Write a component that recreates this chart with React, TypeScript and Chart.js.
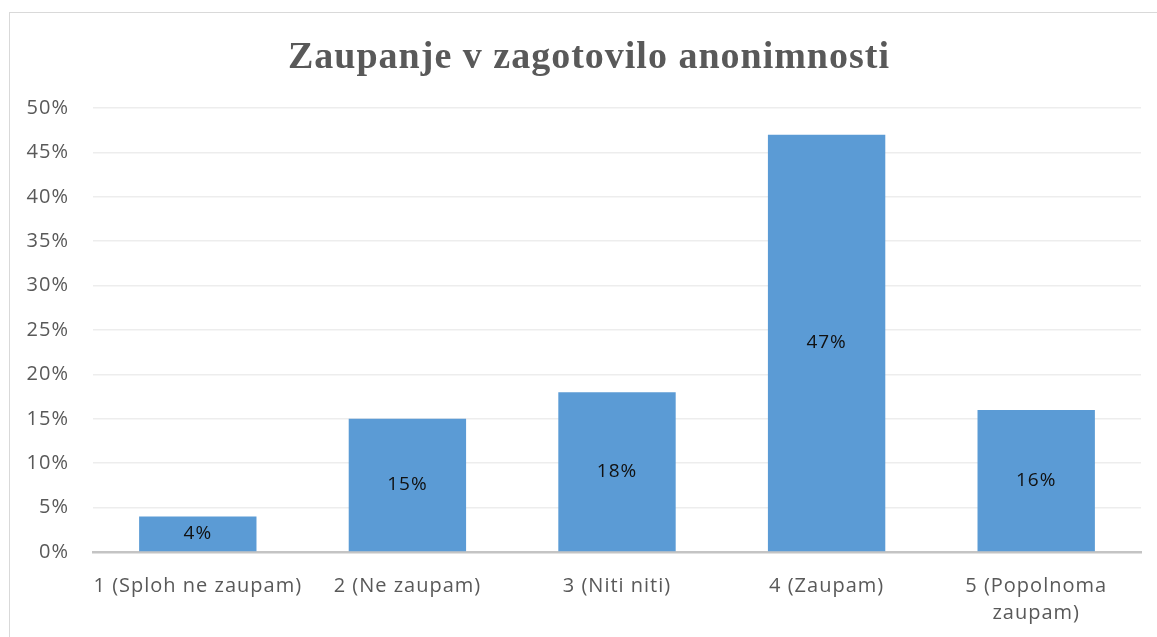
import React, { useEffect, useRef } from "react";
import { Chart, registerables } from "chart.js";

Chart.register(...registerables);

const TITLE = "Zaupanje v zagotovilo anonimnosti";
const categories: (string | string[])[] = [
  "1 (Sploh ne zaupam)",
  "2 (Ne zaupam)",
  "3 (Niti niti)",
  "4 (Zaupam)",
  ["5 (Popolnoma", "zaupam)"],
];
const values = [4, 15, 18, 47, 16];
const yMax = 50;
const yStep = 5;

const FONT = "'Open Sans', 'Noto Sans', sans-serif";
const TITLE_FONT = "bold 38px 'Liberation Serif', 'Times New Roman', serif";

const spacing = {
  id: "spacing",
  beforeUpdate(chart: any) {
    chart.ctx.letterSpacing = "1px";
  },
  beforeDraw(chart: any) {
    chart.ctx.letterSpacing = "1px";
  },
};

const titlePlugin = {
  id: "customTitle",
  afterDraw(chart: any) {
    const ctx = chart.ctx;
    ctx.save();
    ctx.letterSpacing = "1px";
    ctx.font = TITLE_FONT;
    ctx.fillStyle = "#595959";
    ctx.textAlign = "center";
    ctx.textBaseline = "alphabetic";
    ctx.fillText(TITLE, 579, 55);
    ctx.restore();
  },
};

const centerLabels = {
  id: "centerLabels",
  afterDatasetsDraw(chart: any) {
    const ctx = chart.ctx;
    const meta = chart.getDatasetMeta(0);
    ctx.save();
    ctx.letterSpacing = "1px";
    ctx.font = `19px ${FONT}`;
    ctx.fillStyle = "#111";
    ctx.textAlign = "center";
    ctx.textBaseline = "middle";
    meta.data.forEach((bar: any, i: number) => {
      const v = chart.data.datasets[0].data[i];
      const cy = (bar.y + bar.base) / 2;
      ctx.fillText(`${v}%`, bar.x, cy);
    });
    ctx.restore();
  },
};

export default function App() {
  const ref = useRef<HTMLCanvasElement | null>(null);
  useEffect(() => {
    if (!ref.current) return;
    const chart = new Chart(ref.current, {
      type: "bar",
      data: {
        labels: categories,
        datasets: [
          {
            data: values,
            backgroundColor: "#5B9BD5",
            borderWidth: 0,
            barPercentage: 0.56,
            categoryPercentage: 1,
          },
        ],
      },
      options: {
        animation: false,
        responsive: true,
        maintainAspectRatio: false,
        layout: { padding: { left: 0, right: 16, top: 95, bottom: 0 } },
        plugins: {
          legend: { display: false },
          tooltip: { enabled: false },
          title: { display: false },
        },
        scales: {
          x: {
            grid: { display: false, drawTicks: false },
            border: { display: true, color: "#c4c4c4", width: 2.5 },
            ticks: {
              color: "#595959",
              font: { family: FONT, size: 20, lineHeight: 1.35 },
              padding: 21,
              maxRotation: 0,
              autoSkip: false,
            },
            afterFit(scale: any) {
              scale.height = 85;
            },
          },
          y: {
            min: 0,
            max: yMax,
            ticks: {
              stepSize: yStep,
              color: "#595959",
              font: { family: FONT, size: 20 },
              padding: 24,
              callback: (v: any) => `${v}%`,
            },
            grid: { color: "#ededed", lineWidth: 1.5, drawTicks: false },
            border: { display: false },
            afterFit(scale: any) {
              scale.width = 83;
            },
          },
        },
      },
      plugins: [spacing, titlePlugin, centerLabels],
    });
    return () => chart.destroy();
  }, []);

  return (
    <div>
      <div
        style={{
          position: "fixed",
          left: 9,
          top: 12,
          width: 1300,
          height: 800,
          borderLeft: "1.5px solid #d9d9d9",
          borderTop: "1.5px solid #d9d9d9",
          background: "#fff",
        }}
      />
      <div style={{ position: "fixed", left: 10, top: 13, width: 1147, height: 624 }}>
        <canvas ref={ref} />
      </div>
    </div>
  );
}
